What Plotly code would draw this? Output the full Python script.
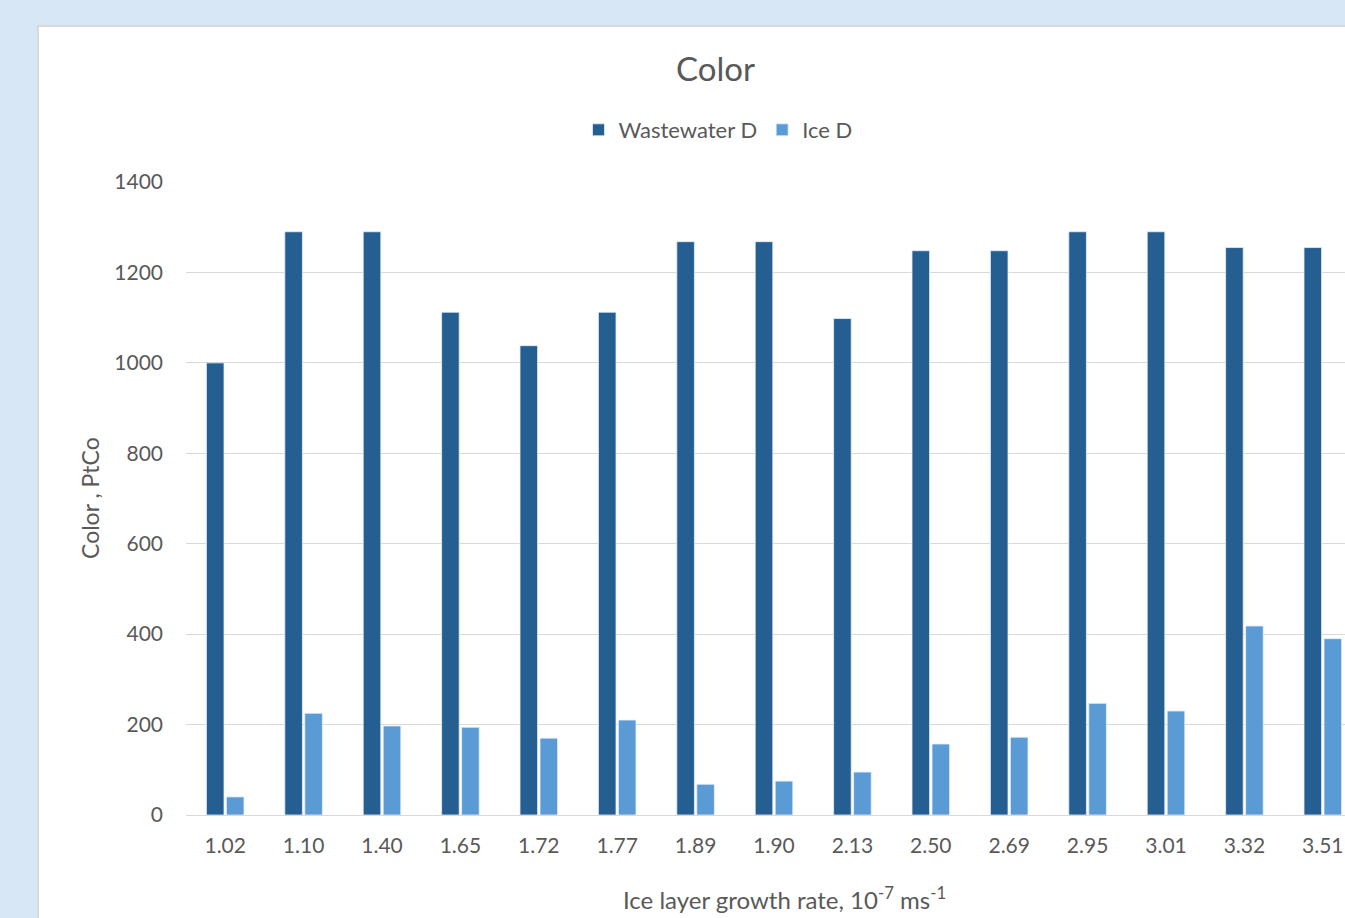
import plotly.graph_objects as go

# Ice layer growth rate categories (10^-7 m/s)
growth_rates = ["1.02", "1.10", "1.40", "1.65", "1.72", "1.77", "1.89", "1.90",
                "2.13", "2.50", "2.69", "2.95", "3.01", "3.32", "3.51"]
# Colour (PtCo) of the wastewater and of the ice
wastewater_d = [1000, 1290, 1290, 1112, 1038, 1112, 1268, 1268,
                1098, 1248, 1248, 1290, 1290, 1255, 1255]
ice_d = [40, 225, 197, 194, 170, 210, 68, 75,
         95, 157, 172, 247, 230, 418, 390]

W, H = 1345, 918
L, R, T, B = 186, 0, 182, 103
PW, PH = W - L - R, H - T - B
FONT = "Lato"
GREY = "#595959"


def px_x(x):
    return (x - L) / PW


def px_y(y):
    return (H - B - y) / PH


fig = go.Figure()
fig.add_trace(go.Bar(name="Wastewater D", x=growth_rates, y=wastewater_d,
                     marker=dict(color="#255E91", line=dict(color="#e8eef6", width=0.8))))
fig.add_trace(go.Bar(name="Ice D", x=growth_rates, y=ice_d,
                     marker=dict(color="#5B9BD5", line=dict(color="#e8eef6", width=0.8))))

fig.update_layout(
    width=W, height=H,
    margin=dict(l=L, r=R, t=T, b=B, pad=0),
    paper_bgcolor="#D7E7F5",
    plot_bgcolor="rgba(0,0,0,0)",
    barmode="group",
    bargap=0.49,
    bargroupgap=0.12,
    font=dict(family=FONT, color=GREY, size=20),
    showlegend=True,
    legend=dict(orientation="h", x=px_x(718), y=px_y(130), xanchor="center", yanchor="middle",
                font=dict(family=FONT, size=22, color=GREY), bgcolor="rgba(0,0,0,0)",
                itemwidth=30, traceorder="normal"),
    xaxis=dict(type="category", range=[-0.5, -0.5 + PW / 78.4], showgrid=False,
               showline=False, zeroline=False, ticks="", ticklabelstandoff=16,
               tickfont=dict(family=FONT, size=21, color=GREY), fixedrange=True),
    yaxis=dict(range=[0, 1400], dtick=200, showgrid=True, gridcolor="#D9D9D9", gridwidth=1,
               zeroline=True, zerolinecolor="#D9D9D9", zerolinewidth=1, showline=False,
               ticks="", ticklabelstandoff=22,
               tickfont=dict(family=FONT, size=21, color=GREY), fixedrange=True),
    shapes=[dict(type="rect", xref="paper", yref="paper", layer="below",
                 x0=px_x(38), x1=px_x(1400), y0=px_y(26), y1=px_y(940),
                 fillcolor="white", line=dict(color="#D9D9D9", width=2))],
    annotations=[
        dict(text="Color", xref="paper", yref="paper", x=px_x(715), y=px_y(68),
             xanchor="center", yanchor="middle", showarrow=False,
             font=dict(family=FONT, size=33, color=GREY)),
        dict(text="Color , PtCo", xref="paper", yref="paper", x=px_x(90), y=px_y(498),
             xanchor="center", yanchor="middle", showarrow=False, textangle=-90,
             font=dict(family=FONT, size=23, color=GREY)),
        dict(text="Ice layer growth rate, 10<sup>-7</sup> ms<sup>-1</sup>", xref="paper", yref="paper",
             x=px_x(785), y=px_y(898), xanchor="center", yanchor="middle", showarrow=False,
             font=dict(family=FONT, size=24, color=GREY)),
    ],
)

fig.write_html("out.html")
